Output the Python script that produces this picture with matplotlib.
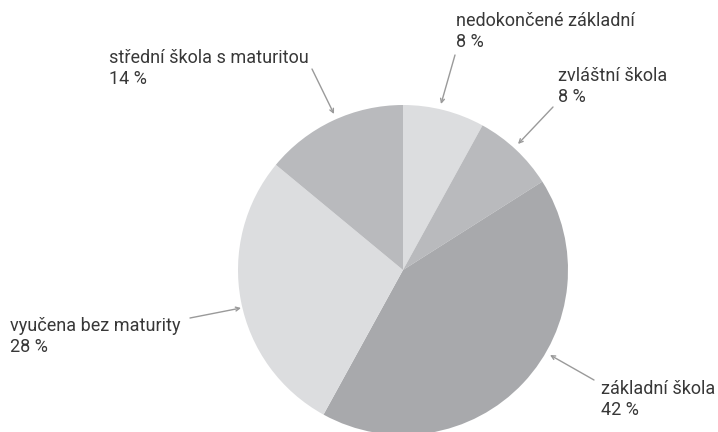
import matplotlib
matplotlib.use('Agg')
import matplotlib.pyplot as plt

labels = ['nedokončené základní', 'zvláštní škola', 'základní škola',
          'vyučena bez maturity', 'střední škola s maturitou']
shares = [8, 8, 42, 28, 14]
colors = ['#dcdddf', '#b9babd', '#a8a9ac', '#dcdddf', '#b9babd']

plt.rcParams['font.family'] = ['Roboto', 'DejaVu Sans']

fig = plt.figure(figsize=(7.18, 4.32), dpi=100)
# pie centre at (403, 270) px, radius 165 px
ax = fig.add_axes([238 / 718, (162 - 165) / 432, 330 / 718, 330 / 432])
ax.pie(shares, colors=colors, startangle=90, counterclock=False, radius=1.0,
       wedgeprops=dict(linewidth=0))
ax.set_xlim(-1, 1)
ax.set_ylim(-1, 1)
ax.set_aspect('equal')
ax.axis('off')

# label text position (left, top) in pixels, arrow tail and tip in pixels
text_pos = [(456, 12), (558, 67), (601, 380), (10, 317), (109, 49)]
arrow_tail = [(455, 55), (553, 107), (594, 380), (190, 318), (312, 69)]
arrow_tip = [(441, 104), (518, 144), (550, 355), (241, 308), (334, 114)]

def to_data(p):
    return ((p[0] - 403) / 165, (270 - p[1]) / 165)

for lab, val, tp, tail, tip in zip(labels, shares, text_pos, arrow_tail, arrow_tip):
    fig.text(tp[0] / 718, 1 - tp[1] / 432, f'{lab}\n{val} %', ha='left', va='top',
             fontsize=13, color='#383838', linespacing=1.2)
    ax.annotate('', xy=to_data(tip), xytext=to_data(tail),
                arrowprops=dict(arrowstyle='->', color='#9a9a9a', lw=1.0,
                                shrinkA=0, shrinkB=0, mutation_scale=7),
                annotation_clip=False)

fig.savefig('out.png', dpi=100)
